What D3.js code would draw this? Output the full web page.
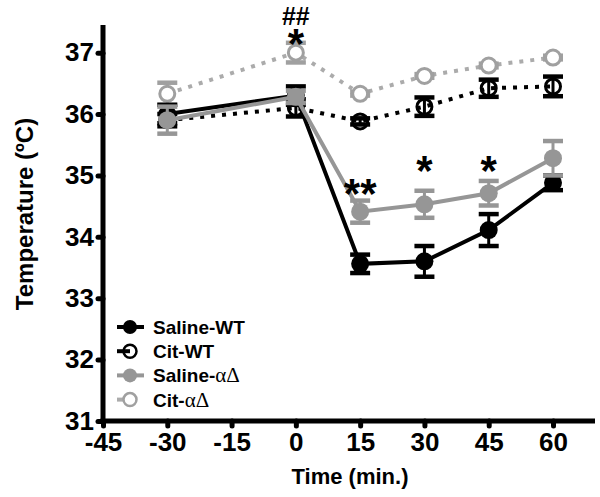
<!DOCTYPE html>
<html><head><meta charset="utf-8">
<script src="https://cdn.jsdelivr.net/npm/d3@7"></script>
<style>
html,body{margin:0;padding:0;background:#fff;}
svg{display:block;font-family:"Liberation Sans",Arial,sans-serif;font-weight:bold;}
</style></head>
<body><svg id="c" width="600" height="497"></svg>
<script>
const times = [-30, 0, 15, 30, 45, 60];
const xTicks = [-45, -30, -15, 0, 15, 30, 45, 60];
const yTicks = [31, 32, 33, 34, 35, 36, 37];

const salineWT     = [36.0, 36.3, 33.56, 33.6, 34.11, 34.88];
const salineWTErr  = [0.15, 0.15, 0.15, 0.25, 0.26, 0.12];
const citWT        = [35.9, 36.1, 35.88, 36.12, 36.42, 36.45];
const citWTErr     = [0.1, 0.14, 0.05, 0.15, 0.14, 0.16];
const salineAD     = [35.9, 36.28, 34.41, 34.53, 34.71, 35.28];
const salineADErr  = [0.22, 0.1, 0.18, 0.22, 0.2, 0.28];
const citAD        = [36.33, 37.0, 36.33, 36.62, 36.79, 36.92];
const citADErr     = [0.18, 0.16, 0.03, 0.03, 0.03, 0.03];

const seriesNames = ["Saline-WT", "Cit-WT", "Saline-\u03b1\u0394", "Cit-\u03b1\u0394"];
const annotations = [
  {x: 0, y: 37.45, text: "##", size: 25},
  {x: 0, y: 36.92, text: "*", size: 42},
  {x: 15, y: 34.47, text: "**", size: 42},
  {x: 30, y: 34.85, text: "*", size: 42},
  {x: 45, y: 34.85, text: "*", size: 42}
];

const svg = d3.select("#c");
const x = d3.scaleLinear().domain([-45, 69.8]).range([103, 595]);
const y = d3.scaleLinear().domain([31, 37.45]).range([421, 25]);

const series = [
  {name: seriesNames[3], vals: citAD, err: citADErr, color: "#ababab", mcolor: "#a0a0a0", filled: false, fill: "#fff", dotted: true},
  {name: seriesNames[1], vals: citWT, err: citWTErr, color: "#000", mcolor: "#000", filled: false, fill: "none", dotted: true},
  {name: seriesNames[0], vals: salineWT, err: salineWTErr, color: "#000", mcolor: "#000", filled: true, dotted: false},
  {name: seriesNames[2], vals: salineAD, err: salineADErr, color: "#969696", mcolor: "#969696", filled: true, dotted: false}
];

// axes
const fmt = d => String(d);
const yAxis = d3.axisLeft(y).tickValues(yTicks).tickSize(5).tickPadding(4).tickFormat(fmt);
const xAxis = d3.axisBottom(x).tickValues(xTicks).tickSize(5).tickPadding(7).tickFormat(fmt);

const gy = svg.append("g").attr("transform", "translate(103,0)").call(yAxis);
const gx = svg.append("g").attr("transform", "translate(0,421)").call(xAxis);
[gy, gx].forEach(g => {
  g.select(".domain").remove();
  g.selectAll(".tick line").attr("stroke", "#000").attr("stroke-width", 5).attr("stroke-linecap", "round");
  g.selectAll(".tick text").attr("fill", "#000").style("font-size", "26px").style("font-weight", "bold")
    .style("font-family", "'Liberation Sans', Arial, sans-serif");
});
svg.append("line").attr("x1", x(-45)).attr("x2", x(-45)).attr("y1", y(37.45)).attr("y2", y(31) + 2.5)
  .attr("stroke", "#000").attr("stroke-width", 5);
svg.append("line").attr("x1", x(-45) - 2.5).attr("x2", x(69.8)).attr("y1", y(31)).attr("y2", y(31))
  .attr("stroke", "#000").attr("stroke-width", 5);

// axis titles
svg.append("text").attr("x", 350).attr("y", 484).attr("text-anchor", "middle")
  .style("font-size", "22px").text("Time (min.)");
svg.append("text").attr("transform", "translate(33,214) rotate(-90)").attr("text-anchor", "middle")
  .style("font-size", "24px").text("Temperature (\u00baC)");

// series
const line = d3.line().x((d, i) => x(times[i])).y(d => y(d));
series.forEach(s => {
  const g = svg.append("g");
  g.append("path").datum(s.vals).attr("d", line).attr("fill", "none")
    .attr("stroke", s.color).attr("stroke-width", 4)
    .attr("stroke-dasharray", s.dotted ? "4,7" : null);
  s.vals.forEach((v, i) => {
    const cx = x(times[i]);
    const e = s.err[i];
    g.append("line").attr("x1", cx).attr("x2", cx).attr("y1", y(v + e)).attr("y2", y(v - e))
      .attr("stroke", s.mcolor).attr("stroke-width", 3);
    [v + e, v - e].forEach(t => {
      g.append("line").attr("x1", cx - 10).attr("x2", cx + 10).attr("y1", y(t)).attr("y2", y(t))
        .attr("stroke", s.mcolor).attr("stroke-width", 4.5);
    });
    if (s.filled) {
      g.append("circle").attr("cx", cx).attr("cy", y(v)).attr("r", 9).attr("fill", s.mcolor);
    } else {
      g.append("circle").attr("cx", cx).attr("cy", y(v)).attr("r", 7.5).attr("fill", s.fill)
        .attr("stroke", s.mcolor).attr("stroke-width", 3);
    }
  });
});

// annotations
annotations.forEach(a => {
  svg.append("text").attr("x", x(a.x)).attr("y", y(a.y)).attr("text-anchor", "middle")
    .style("font-size", a.size + "px").text(a.text);
});

// legend
const legendOrder = [2, 1, 3, 0];
const lg = svg.append("g");
legendOrder.forEach((si, r) => {
  const s = series[si];
  const cy = 327 + r * 24.2;
  const full = s.filled;
  lg.append("line").attr("x1", 117).attr("x2", full ? 144 : 130).attr("y1", cy).attr("y2", cy)
    .attr("stroke", s.color).attr("stroke-width", 4);
  if (s.filled) {
    lg.append("circle").attr("cx", 130).attr("cy", cy).attr("r", 7).attr("fill", s.mcolor);
  } else {
    lg.append("circle").attr("cx", 130).attr("cy", cy).attr("r", 6.5).attr("fill", s.fill)
      .attr("stroke", s.mcolor).attr("stroke-width", 2.5);
  }
  const t = lg.append("text").attr("x", 153).attr("y", cy + 7).style("font-size", "19px");
  const parts = s.name.split("-");
  t.append("tspan").text(parts[0] + "-");
  if (parts[1] === "WT") t.append("tspan").text("WT");
  else t.append("tspan").style("font-family", "'Liberation Serif', serif").style("font-weight", "normal")
    .style("font-size", "21px").text(parts[1]);
});
</script></body></html>
